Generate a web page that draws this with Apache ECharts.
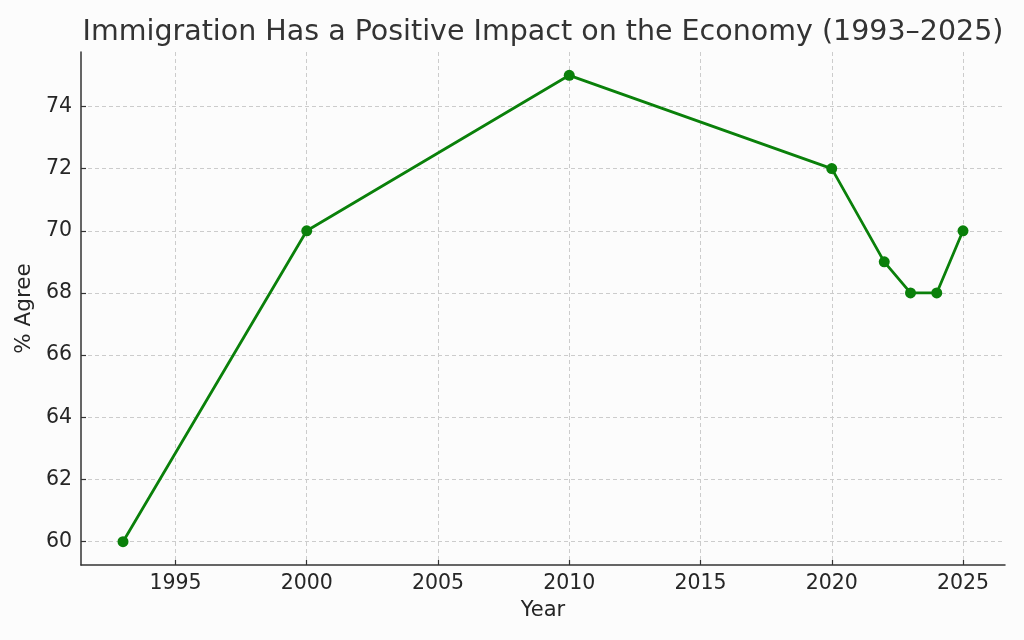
<!DOCTYPE html>
<html>
<head>
<meta charset="utf-8">
<script src="https://cdn.jsdelivr.net/npm/echarts@6/dist/echarts.min.js"></script>
<style>
html,body{margin:0;padding:0;background:#fcfcfc;}
#chart{width:1024px;height:640px;}
</style>
</head>
<body>
<div id="chart"></div>
<script>
const years = [1993, 2000, 2010, 2020, 2022, 2023, 2024, 2025];
const agree = [60, 70, 75, 72, 69, 68, 68, 70];
const xTicks = [1995, 2000, 2005, 2010, 2015, 2020, 2025];
const yTicks = [60, 62, 64, 66, 68, 70, 72, 74];

const chart = echarts.init(document.getElementById('chart'));
const font = 'DejaVu Sans';
chart.setOption({
  backgroundColor: '#fcfcfc',
  animation: false,
  title: {
    text: 'Immigration Has a Positive Impact on the Economy (1993–2025)',
    left: 538, top: 13, textAlign: 'center',
    textStyle: { fontFamily: font, fontSize: 28.5, fontWeight: 'normal', color: '#333333' }
  },
  grid: { left: 81, right: 19, top: 52, bottom: 75 },
  xAxis: {
    type: 'value', min: 1991.4, max: 2026.6,
    name: 'Year', nameLocation: 'middle', nameGap: 35,
    nameTextStyle: { fontFamily: font, fontSize: 21, color: '#262626' },
    axisLine: { show: true, lineStyle: { color: '#333333', width: 1.5 } },
    axisTick: { show: true, inside: true, length: 5, customValues: xTicks, lineStyle: { color: '#333333', width: 1.2 } },
    axisLabel: { customValues: xTicks, margin: 8, fontFamily: font, fontSize: 20.5, color: '#262626', formatter: v => String(v) },
    splitLine: { show: true, lineStyle: { color: '#cccccc', type: [4, 3], width: 1 } }
  },
  yAxis: {
    type: 'value', min: 59.25, max: 75.75,
    name: '% Agree', nameLocation: 'middle', nameGap: 36,
    nameTextStyle: { fontFamily: font, fontSize: 21.5, color: '#262626' },
    axisLine: { show: true, lineStyle: { color: '#333333', width: 1.5 } },
    axisTick: { show: true, inside: true, length: 5, customValues: yTicks, lineStyle: { color: '#333333', width: 1.2 } },
    axisLabel: { customValues: yTicks, margin: 9, fontFamily: font, fontSize: 20.5, color: '#262626', formatter: v => String(v) },
    splitLine: { show: true, lineStyle: { color: '#cccccc', type: [4, 3], width: 1 } }
  },
  series: [{
    type: 'line',
    data: years.map((y, i) => [y, agree[i]]),
    symbol: 'circle', symbolSize: 11,
    lineStyle: { color: '#0a800a', width: 2.8 },
    itemStyle: { color: '#0a800a' }
  }]
});
</script>
</body>
</html>
